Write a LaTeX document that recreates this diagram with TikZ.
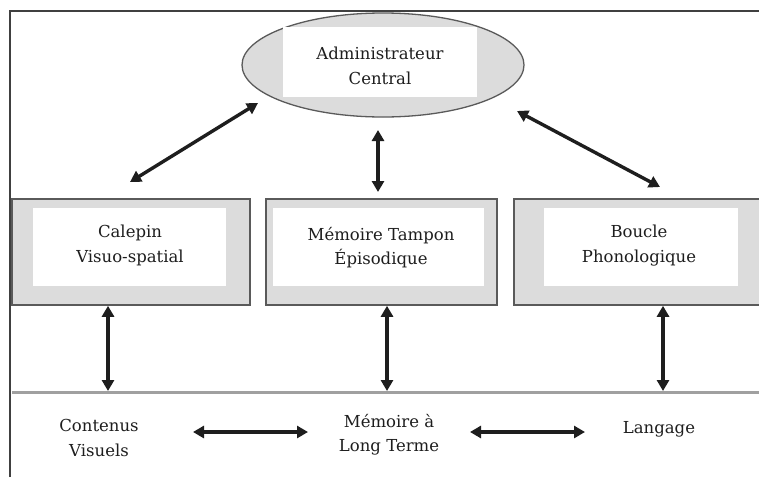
\documentclass[tikz,border=0pt]{standalone}
\usepackage{fontspec}
\setmainfont{DejaVu Serif}
\usetikzlibrary{shapes.geometric,arrows.meta}
\definecolor{boxgray}{HTML}{DCDCDC}
\definecolor{edgegray}{HTML}{5A5A5A}
\definecolor{linegray}{HTML}{A0A0A0}
\definecolor{ink}{HTML}{1E1E1E}
\tikzset{
  outer/.style={draw=edgegray, line width=1.6pt, fill=boxgray, rectangle, inner sep=0pt},
  whitebox/.style={fill=white, rectangle, inner sep=0pt},
  lbl/.style={align=center, inner sep=0pt, font=\fontsize{16.5}{24.5}\selectfont, text=ink},
  dbl/.style={{Triangle[length=11pt,width=12pt]}-{Triangle[length=11pt,width=12pt]}, line width=3.4pt, draw=ink}
}
\begin{document}
\begin{tikzpicture}[x=1pt,y=-1pt]
\useasboundingbox (0,0) rectangle (759,477);
\fill[white] (0,0) rectangle (759,477);
% frame
\draw[line width=2.2pt, draw=ink!85] (10,477) -- (10,11) -- (762,11);
% ellipse
\node[ellipse, draw=edgegray, line width=1.3pt, fill=boxgray, minimum width=282pt, minimum height=104pt, inner sep=0pt] (ell) at (383,65) {};
\node[whitebox, minimum width=194pt, minimum height=70pt] (ellw) at (380,62) {};
\node[lbl] (ellt) at (380,66) {Administrateur\\Central};
% boxes
\node[outer, minimum width=238pt, minimum height=106pt] (b1) at (131,252) {};
\node[whitebox, minimum width=193pt, minimum height=78pt] (w1) at (129.5,247) {};
\node[lbl] (t1) at (130,245.6) {Calepin\\Visuo-spatial};
\node[outer, minimum width=231pt, minimum height=106pt] (b2) at (381.5,252) {};
\node[whitebox, minimum width=211pt, minimum height=78pt] (w2) at (378.5,247) {};
\node[lbl] (t2) at (381,247.6) {Mémoire Tampon\\Épisodique};
\node[outer, minimum width=250pt, minimum height=106pt] (b3) at (639,252) {};
\node[whitebox, minimum width=194pt, minimum height=78pt] (w3) at (641,247) {};
\node[lbl] (t3) at (639,245.6) {Boucle\\Phonologique};
% long-term line
\coordinate (lL) at (12,392);
\coordinate (lR) at (762,392);
\draw[line width=3pt, draw=linegray] (lL) -- (lR);
% bottom labels
\node[lbl] (cv) at (99,437.8) {Contenus\\Visuels};
\node[lbl] (mlt) at (389,434.6) {Mémoire à\\Long Terme};
\node[lbl, anchor=base] (lang) at (659,433) {Langage};
% arrows top
\coordinate (a1a) at (258,103);
\coordinate (a1b) at (130,182);
\draw[dbl] (a1a) -- (a1b);
\coordinate (a2a) at (378,130);
\coordinate (a2b) at (378,192);
\draw[dbl] (a2a) -- (a2b);
\coordinate (a3a) at (517,111);
\coordinate (a3b) at (660,187);
\draw[dbl] (a3a) -- (a3b);
% vertical arrows to line
\coordinate (v1) at (108,391);
\coordinate (v2) at (387,391);
\coordinate (v3) at (663,391);
\draw[dbl] (b1.south -| v1) -- (v1);
\draw[dbl] (b2.south -| v2) -- (v2);
\draw[dbl] (b3.south -| v3) -- (v3);
% horizontal arrows
\coordinate (h1a) at (193,432);
\coordinate (h1b) at (308,432);
\draw[dbl] (h1a) -- (h1b);
\coordinate (h2a) at (470,432);
\coordinate (h2b) at (585,432);
\draw[dbl] (h2a) -- (h2b);
\end{tikzpicture}
\end{document}
